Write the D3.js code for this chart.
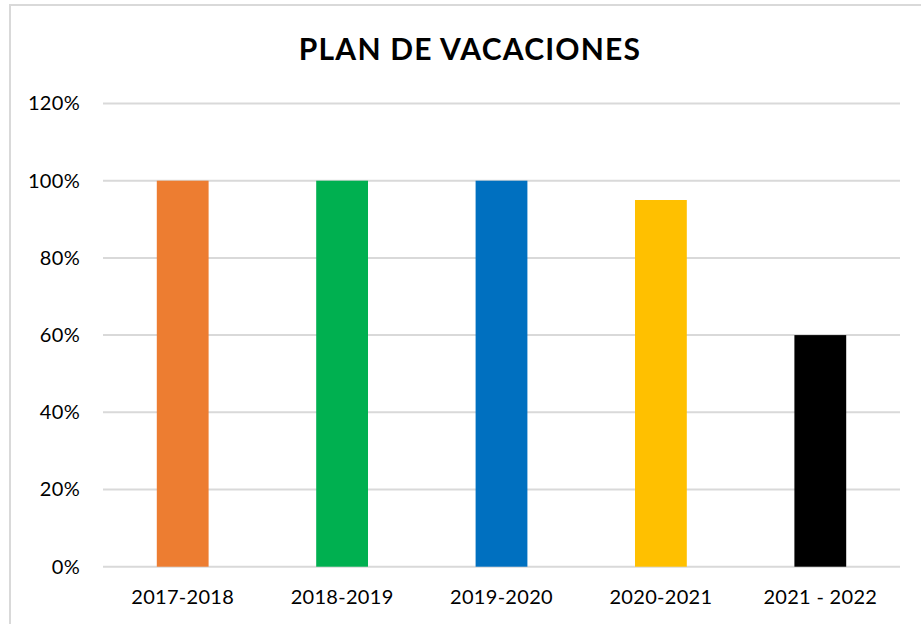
<!DOCTYPE html>
<html>
<head>
<meta charset="utf-8">
<script src="https://cdn.jsdelivr.net/npm/d3@7"></script>
<style>
  html, body { margin: 0; padding: 0; background: #fff; }
  svg { display: block; }
</style>
</head>
<body>
<svg id="chart" width="921" height="624"></svg>
<script>
const categories = ["2017-2018", "2018-2019", "2019-2020", "2020-2021", "2021 - 2022"];
const values = [1.00, 1.00, 1.00, 0.95, 0.60];
const barColors = ["#ED7D31", "#00B050", "#0070C0", "#FFC000", "#000000"];
const yTicks = [0, 0.2, 0.4, 0.6, 0.8, 1.0, 1.2];
const title = "PLAN DE VACACIONES";

const W = 921, H = 624;
const margin = { left: 103, right: 21, top: 103.5, bottom: 57.3 };
const font = "Lato, 'Open Sans', sans-serif";

const svg = d3.select("#chart");

// chart frame (left and top edges are inside the view)
svg.append("rect")
  .attr("x", 10).attr("y", 5)
  .attr("width", W).attr("height", H)
  .attr("fill", "#fff")
  .attr("stroke", "#d9d9d9").attr("stroke-width", 2);

const x = d3.scaleBand()
  .domain(categories)
  .range([margin.left, W - margin.right])
  .paddingInner(0.675).paddingOuter(0.3375);

const y = d3.scaleLinear()
  .domain([0, 1.2])
  .range([H - margin.bottom, margin.top]);

// horizontal gridlines
svg.append("g")
  .selectAll("line")
  .data(yTicks)
  .join("line")
  .attr("x1", margin.left).attr("x2", W - margin.right)
  .attr("y1", d => y(d)).attr("y2", d => y(d))
  .attr("stroke", "#d9d9d9").attr("stroke-width", 2);

// y axis labels
const yAxis = d3.axisLeft(y).tickValues(yTicks).tickFormat(d3.format(".0%")).tickSize(0).tickPadding(23);
svg.append("g")
  .attr("transform", `translate(${margin.left},0)`)
  .call(yAxis)
  .call(g => g.select(".domain").remove())
  .call(g => g.selectAll("text")
    .attr("font-family", font).attr("font-size", 20).attr("fill", "#000")
    .attr("letter-spacing", 0.3));

// bars
svg.append("g")
  .selectAll("rect")
  .data(categories.map((c, i) => ({ c, v: values[i], col: barColors[i] })))
  .join("rect")
  .attr("x", d => x(d.c))
  .attr("width", x.bandwidth())
  .attr("y", d => y(d.v))
  .attr("height", d => y(0) - y(d.v))
  .attr("fill", d => d.col);

// x axis labels
const xAxis = d3.axisBottom(x).tickSize(0).tickPadding(23);
svg.append("g")
  .attr("transform", `translate(0,${y(0)})`)
  .call(xAxis)
  .call(g => g.select(".domain").remove())
  .call(g => g.selectAll("text")
    .attr("font-family", font).attr("font-size", 20).attr("fill", "#000")
    .attr("letter-spacing", 0.3));

// title
svg.append("text")
  .attr("x", 470).attr("y", 59.5)
  .attr("text-anchor", "middle")
  .attr("font-family", font).attr("font-weight", "bold").attr("font-size", 30)
  .attr("letter-spacing", 1.2)
  .attr("fill", "#000")
  .text(title);
</script>
</body>
</html>
